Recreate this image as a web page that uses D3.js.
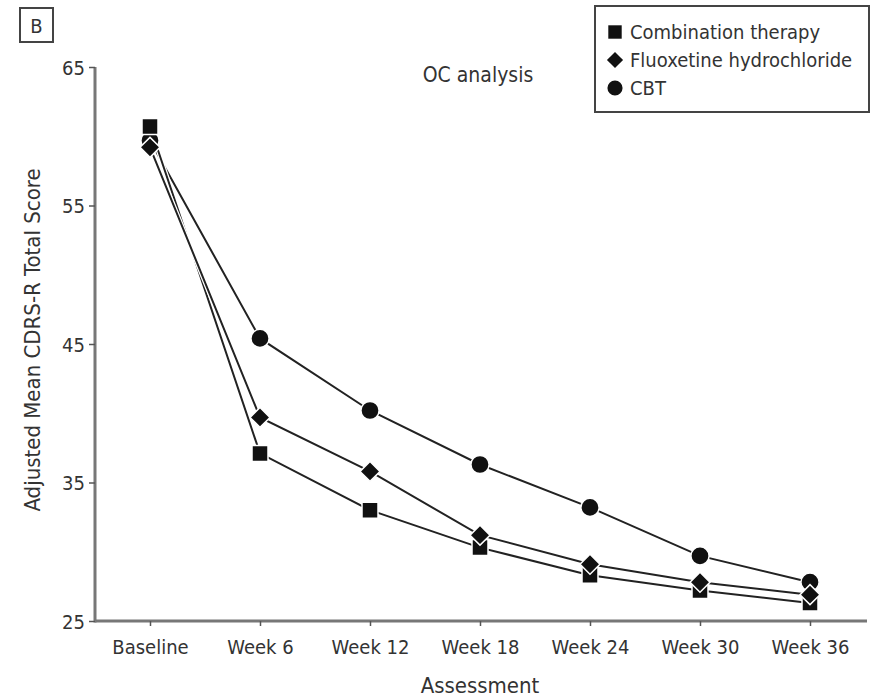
<!DOCTYPE html>
<html>
<head>
<meta charset="utf-8">
<script src="https://cdn.jsdelivr.net/npm/d3@7"></script>
<style>
  body { margin: 0; background: #fff; }
  text { font-family: "DejaVu Sans Condensed", "Liberation Sans Narrow", "Liberation Sans", sans-serif; fill: #333; }
</style>
</head>
<body>
<div class="chart"></div>
<script>
// Assessment points along the x axis.
const assessments = ["Baseline", "Week 6", "Week 12", "Week 18", "Week 24", "Week 30", "Week 36"];
// Adjusted mean CDRS-R total score per group.
const combination = [60.7, 37.1, 33.0, 30.3, 28.3, 27.2, 26.3];
const fluoxetine = [59.2, 39.7, 35.8, 31.2, 29.1, 27.8, 26.9];
const cbt = [59.7, 45.4, 40.2, 36.3, 33.2, 29.7, 27.8];
const yTicks = [25, 35, 45, 55, 65];

const width = 875, height = 699;
const margin = { top: 67, right: 10, bottom: 78, left: 95 };

const svg = d3.select(".chart")
  .append("svg")
  .attr("width", width)
  .attr("height", height);

const x = d3.scalePoint().domain(assessments).range([margin.left, width - margin.right]).padding(0.5);
const y = d3.scaleLinear().domain([25, 65]).range([height - margin.bottom, margin.top]);

// Axes
const xAxis = svg.append("g")
  .attr("transform", `translate(0,${height - margin.bottom})`)
  .call(d3.axisBottom(x).tickSize(5).tickPadding(14).tickSizeOuter(0));
const yAxis = svg.append("g")
  .attr("transform", `translate(${margin.left},0)`)
  .call(d3.axisLeft(y).tickValues(yTicks).tickSize(6).tickPadding(4).tickSizeOuter(0));

[xAxis, yAxis].forEach(g => {
  g.select(".domain").attr("stroke", "#777").attr("stroke-width", 3);
  g.selectAll(".tick line").attr("stroke", "#555").attr("stroke-width", 1.5);
  g.selectAll(".tick text").attr("font-size", 20).attr("fill", "#333");
});
xAxis.select(".domain").attr("d", `M${margin.left},0H${width - 8}`);
yAxis.select(".domain").attr("d", `M0,${y(65)}V${y(25) + 1.5}`);
yAxis.selectAll(".tick text").attr("dy", "0.35em");

// Axis titles
svg.append("text")
  .attr("x", 480)
  .attr("y", 693)
  .attr("text-anchor", "middle")
  .attr("font-size", 22)
  .text("Assessment");
svg.append("text")
  .attr("transform", `translate(40,340) rotate(-90)`)
  .attr("text-anchor", "middle")
  .attr("font-size", 22)
  .text("Adjusted Mean CDRS-R Total Score");

// Annotation
svg.append("text")
  .attr("x", 478)
  .attr("y", 82)
  .attr("text-anchor", "middle")
  .attr("font-size", 21)
  .text("OC analysis");

// Panel label
svg.append("rect")
  .attr("x", 20).attr("y", 8).attr("width", 33).attr("height", 34)
  .attr("fill", "none").attr("stroke", "#444").attr("stroke-width", 2);
svg.append("text")
  .attr("x", 36.5).attr("y", 33)
  .attr("text-anchor", "middle")
  .attr("font-size", 20)
  .text("B");

// Diamond drawn as a square turned 45 degrees.
const series = [
  { name: "CBT", values: cbt, shape: d3.symbolCircle, size: 260, rot: 0 },
  { name: "Combination therapy", values: combination, shape: d3.symbolSquare, size: 256, rot: 0 },
  { name: "Fluoxetine hydrochloride", values: fluoxetine, shape: d3.symbolSquare, size: 200, rot: 45 }
];

const line = d3.line()
  .x((d, i) => x(assessments[i]))
  .y(d => y(d));

// Lines first, then markers on top
series.forEach(s => {
  svg.append("path")
    .datum(s.values)
    .attr("d", line)
    .attr("fill", "none")
    .attr("stroke", "#fff")
    .attr("stroke-width", 4.5);
  svg.append("path")
    .datum(s.values)
    .attr("d", line)
    .attr("fill", "none")
    .attr("stroke", "#222")
    .attr("stroke-width", 2);
});
series.forEach(s => {
  svg.append("g")
    .selectAll("path")
    .data(s.values)
    .join("path")
    .attr("transform", (d, i) => `translate(${x(assessments[i])},${y(d)}) rotate(${s.rot})`)
    .attr("d", d3.symbol(s.shape, s.size))
    .attr("fill", "#111")
    .attr("stroke", "#fff")
    .attr("stroke-width", 1.5);
});

// Legend
const legend = svg.append("g");
legend.append("rect")
  .attr("x", 595).attr("y", 6).attr("width", 274).attr("height", 106)
  .attr("fill", "#fff").attr("stroke", "#444").attr("stroke-width", 2);
const legendItems = [series[1], series[2], series[0]];
legendItems.forEach((s, i) => {
  const cy = 32 + i * 28;
  legend.append("path")
    .attr("transform", `translate(615,${cy}) rotate(${s.rot})`)
    .attr("d", d3.symbol(s.shape, s.rot ? 130 : 180))
    .attr("fill", "#111");
  legend.append("text")
    .attr("x", 630).attr("y", cy)
    .attr("dy", "0.35em")
    .attr("font-size", 20)
    .text(s.name);
});
</script>
</body>
</html>
